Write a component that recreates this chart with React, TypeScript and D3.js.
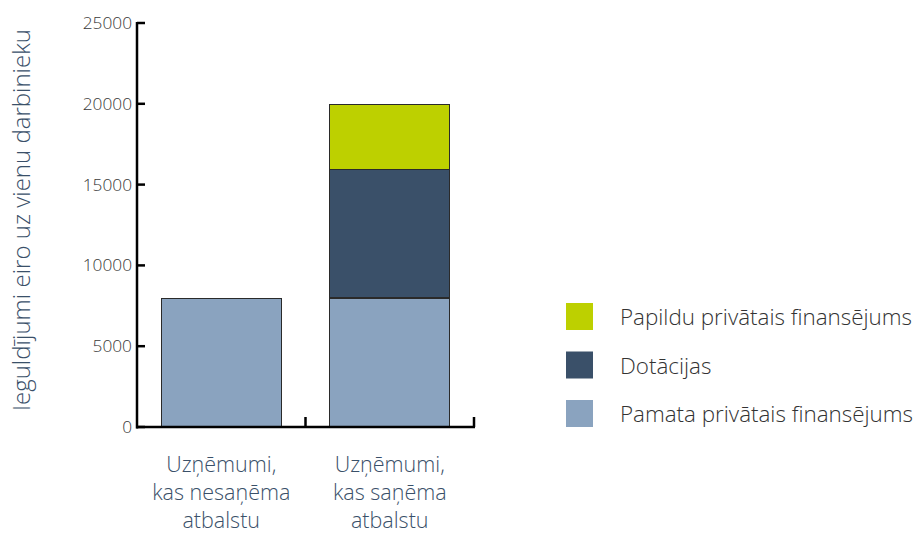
import React from "react";
import * as d3 from "d3";

const categories = [
  ["Uzņēmumi,", "kas nesaņēma", "atbalstu"],
  ["Uzņēmumi,", "kas saņēma", "atbalstu"],
];
const seriesNames = ["Pamata privātais finansējums", "Dotācijas", "Papildu privātais finansējums"];
const pamata = [8000, 8000];
const dotacijas = [0, 8000];
const papildu = [0, 4000];
const yTicks = [0, 5000, 10000, 15000, 20000, 25000];
const colors = ["#8aa3bf", "#3a5069", "#bdd000"];
const yTitle = "Ieguldījumi eiro uz vienu darbinieku";

const FONT = "'Open Sans', 'Noto Sans', sans-serif";

export default function App() {
  const W = 917, H = 533;
  const x0 = 137, x1 = 474, yTop = 23, yBot = 427;
  const y = d3.scaleLinear().domain([0, 25000]).range([yBot, yTop]);
  const xb = d3.scaleBand().domain(["0", "1"]).range([x0, x1]).paddingInner(0.285).paddingOuter(0.143);
  const xBand = d3.scaleBand().domain(["0", "1"]).range([x0, x1]);
  const data = categories.map((_, i) => ({ key: String(i), p: pamata[i], d: dotacijas[i], a: papildu[i] }));
  const stack = d3.stack<any>().keys(["p", "d", "a"])(data);

  return (
    <svg width={W} height={H} style={{ position: "absolute", left: 0, top: 0 }}>
      {stack.map((layer, li) =>
        layer.map((seg, i) =>
          seg[1] - seg[0] > 0 ? (
            <rect
              key={`${li}-${i}`}
              x={Math.round(xb(String(i))!) + 0.5}
              y={Math.round(y(seg[1])) + 0.5}
              width={Math.round(xb.bandwidth())}
              height={Math.round(y(seg[0]) - y(seg[1]))}
              fill={colors[li]}
              stroke="#2a2a2a"
              strokeWidth={1}
            />
          ) : null
        )
      )}
      {/* y axis */}
      <line x1={x0} x2={x0} y1={yTop - 1} y2={yBot + 1.5} stroke="#000" strokeWidth={2.5} />
      {yTicks.map((t) => (
        <g key={t}>
          <line x1={x0} x2={x0 + 8} y1={y(t)} y2={y(t)} stroke="#000" strokeWidth={2.5} />
          <text x={x0 - 5} y={y(t)} dy="0.35em" textAnchor="end" fontFamily={FONT} fontSize={17.3} fontWeight={300} fill="#3a3a3a">
            {t}
          </text>
        </g>
      ))}
      {/* x axis */}
      <line x1={x0 - 1} x2={x1 + 1} y1={yBot} y2={yBot} stroke="#000" strokeWidth={2.5} />
      {xBand.domain().map((k) => (
        <line key={k} x1={xBand(k)! + xBand.bandwidth()} x2={xBand(k)! + xBand.bandwidth()} y1={yBot} y2={yBot - 10} stroke="#000" strokeWidth={2.5} />
      ))}
      {categories.map((lines, i) => (
        <text key={i} textAnchor="middle" fontFamily={FONT} fontSize={21.5} fontWeight={350} fill="#3a5069">
          {lines.map((l, j) => (
            <tspan key={j} x={xBand(String(i))! + xBand.bandwidth() / 2} y={472 + j * 28}>
              {l}
            </tspan>
          ))}
        </text>
      ))}
      <text
        transform={`translate(30, ${220}) rotate(-90)`}
        textAnchor="middle"
        fontFamily={FONT}
        fontSize={24}
        fontWeight={300}
        fill="#3a5069"
      >
        {yTitle}
      </text>
      {/* legend */}
      {[2, 1, 0].map((si, j) => (
        <g key={si} transform={`translate(566, ${303 + j * 48.5})`}>
          <rect width={27} height={27} fill={colors[si]} />
          <text x={54} y={22} fontFamily={FONT} fontSize={22.4} fontWeight={300} fill="#333">
            {seriesNames[si]}
          </text>
        </g>
      ))}
    </svg>
  );
}
